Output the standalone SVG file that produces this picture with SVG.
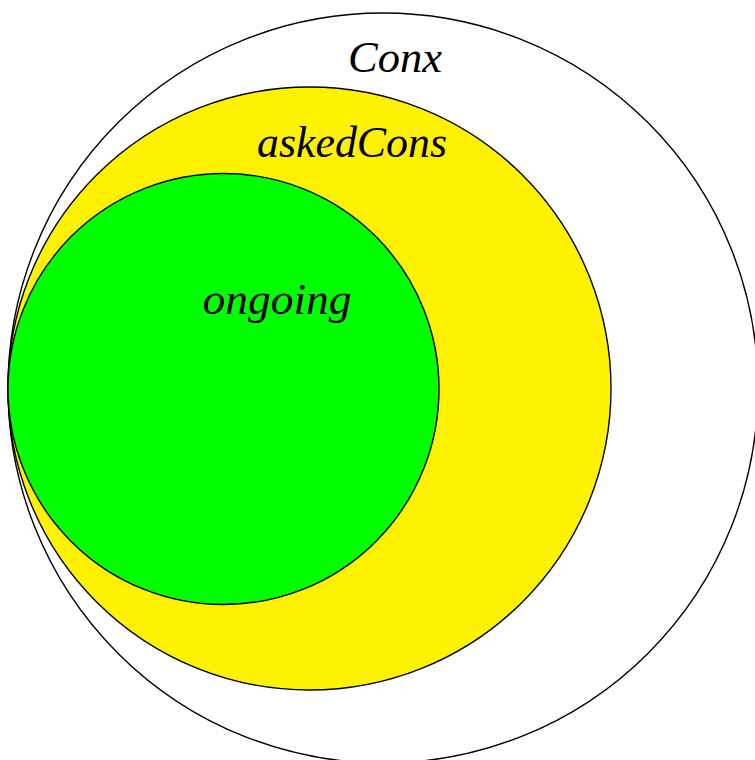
<svg xmlns="http://www.w3.org/2000/svg" width="755" height="760" viewBox="0 0 755 760">
<style>
.c{stroke:#000;stroke-width:1.4}
.t{font-family:"Liberation Serif","Times New Roman",serif;font-style:italic;font-size:45px;fill:#000;text-anchor:middle}
</style>
<rect width="755" height="760" fill="#fff"/>
<g id="conx">
<circle class="c" cx="383" cy="388" r="375" fill="#fff"/>
<text class="t" x="395" y="72" textLength="94" lengthAdjust="spacingAndGlyphs">Conx</text>
</g>
<g id="askedCons">
<circle class="c" cx="309.5" cy="388.5" r="301.5" fill="#fff200"/>
<text class="t" x="352" y="157" textLength="190" lengthAdjust="spacingAndGlyphs">askedCons</text>
</g>
<g id="ongoing">
<circle class="c" cx="223.5" cy="389" r="215.5" fill="#00ff00"/>
<text class="t" x="277" y="314" textLength="149" lengthAdjust="spacingAndGlyphs">ongoing</text>
</g>
<g id="connectors"/>
</svg>
